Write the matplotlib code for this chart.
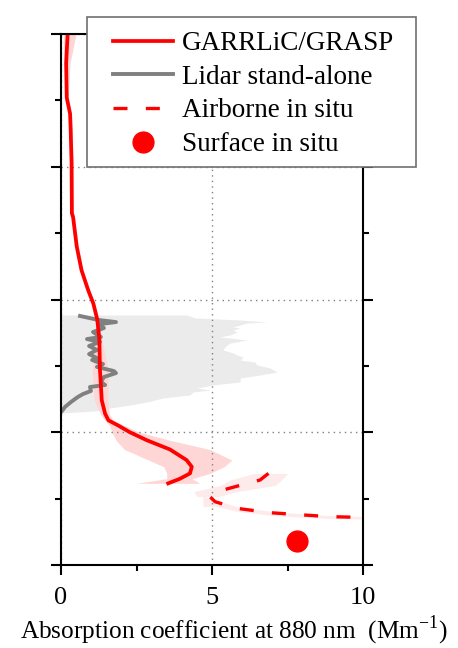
import matplotlib
matplotlib.use("Agg")
import matplotlib.pyplot as plt
from matplotlib.patches import Rectangle
from matplotlib.lines import Line2D
import numpy as np

plt.rcParams['font.family'] = ['Liberation Serif', 'DejaVu Serif']

# GARRLiC/GRASP retrieval: altitude (km) and absorption (Mm-1) with its uncertainty band
garr_alt = [4.00, 3.78, 3.52, 3.40, 3.28, 3.03, 2.65, 2.62, 2.40, 2.22, 2.07, 1.97,
            1.85, 1.70, 1.47, 1.24, 1.14, 1.09, 1.05, 1.00, 0.94, 0.87, 0.79, 0.74,
            0.69, 0.65, 0.615]
garr_abs = [0.22, 0.17, 0.19, 0.30, 0.32, 0.35, 0.36, 0.40, 0.52, 0.68, 0.90, 1.07,
            1.20, 1.27, 1.29, 1.35, 1.46, 1.57, 1.90, 2.28, 2.84, 3.61, 4.16, 4.33,
            4.27, 3.94, 3.55]
garr_lo = [0.07, 0.10, 0.14, 0.25, 0.27, 0.30, 0.31, 0.35, 0.47, 0.63, 0.85, 1.02,
           1.15, 1.20, 1.03, 1.10, 1.30, 1.45, 1.60, 1.69, 1.82, 2.10, 2.90, 3.40,
           3.50, 3.50, 2.50]
garr_hi = [0.50, 0.30, 0.24, 0.35, 0.37, 0.40, 0.41, 0.45, 0.57, 0.73, 0.95, 1.12,
           1.25, 1.35, 1.56, 1.55, 1.60, 1.72, 2.10, 2.60, 3.60, 4.93, 5.66, 5.40,
           4.93, 4.34, 4.60]

# Lidar stand-alone retrieval and its spread
lidar_alt = [1.876, 1.846, 1.830, 1.815, 1.785, 1.755, 1.718, 1.702, 1.680, 1.650,
             1.620, 1.589, 1.559, 1.544, 1.514, 1.492, 1.461, 1.446, 1.416, 1.379,
             1.356, 1.341, 1.311, 1.288, 1.266, 1.228, 1.190, 1.160]
lidar_abs = [0.63, 1.23, 1.82, 1.29, 1.42, 1.06, 1.32, 0.86, 1.29, 0.93,
             1.19, 0.93, 1.19, 1.03, 1.39, 1.19, 1.75, 1.82, 1.42, 1.32,
             1.46, 0.96, 0.99, 0.73, 0.56, 0.33, 0.13, 0.03]
lidar_band_alt = [1.883, 1.861, 1.846, 1.830, 1.823, 1.808, 1.793, 1.785, 1.770, 1.755,
                  1.733, 1.718, 1.695, 1.672, 1.657, 1.642, 1.620, 1.597, 1.582, 1.567,
                  1.544, 1.529, 1.507, 1.484, 1.454, 1.431, 1.409, 1.379, 1.356, 1.333,
                  1.318, 1.303, 1.281, 1.258, 1.228, 1.205, 1.183, 1.160, 1.145]
lidar_band_hi = [4.17, 4.44, 5.90, 6.82, 6.16, 5.93, 5.70, 5.93, 5.70, 5.83,
                 5.60, 5.26, 6.16, 5.60, 5.50, 5.43, 5.36, 5.70, 5.83, 6.03,
                 5.93, 6.42, 6.49, 6.92, 7.15, 6.59, 5.93, 5.93, 5.03, 4.50,
                 4.93, 4.37, 4.27, 3.38, 2.85, 2.28, 1.62, 1.13, 0.00]

# Airborne in situ profile
air_alt = [0.69, 0.64, 0.60, 0.552, 0.515, 0.477, 0.427, 0.394, 0.377, 0.364, 0.359, 0.357]
air_abs = [6.87, 6.59, 5.93, 5.16, 4.93, 5.10, 5.82, 6.92, 8.02, 8.91, 9.90, 10.5]
air_up_alt = [0.69, 0.64, 0.60, 0.552, 0.515]
air_up_lo = [6.40, 5.60, 5.30, 4.40, 4.50]
air_up_hi = [7.50, 7.30, 7.10, 5.80, 5.20]
air_low_abs = [4.70, 5.10, 5.82, 6.92, 8.02, 8.91, 9.90, 10.5]
air_low_bot = [0.440, 0.445, 0.405, 0.375, 0.360, 0.350, 0.346, 0.345]
air_low_top = [0.520, 0.490, 0.440, 0.405, 0.385, 0.372, 0.366, 0.365]

# Surface in situ measurement
surf_alt = [0.18]
surf_abs = [7.8]

fig = plt.figure(figsize=(4.58, 6.48), dpi=100)
ax = fig.add_axes([0.1332, 0.1281, 0.6594, 0.8194])

ax.fill_betweenx(lidar_band_alt, 0, lidar_band_hi, color='#ebebeb', lw=0, zorder=1)
ax.fill_betweenx(garr_alt, garr_lo, garr_hi, color='#ffd6d6', lw=0, zorder=1.1)
ax.fill_betweenx(air_up_alt, air_up_lo, air_up_hi, color='#fdeaea', lw=0, zorder=1.1)
ax.fill_between(air_low_abs, air_low_bot, air_low_top, color='#fdeaea', lw=0, zorder=1.1)

ax.plot(lidar_abs, lidar_alt, color='#808080', lw=2.8, zorder=2)
ax.plot(garr_abs, garr_alt, color='red', lw=2.7, zorder=2.1)
ax.plot(air_abs, air_alt, color='red', lw=2.4, ls=(0, (4.2, 5.5)), zorder=2.1)
ax.plot(surf_abs, surf_alt, 'o', color='red', ms=15, zorder=3)

ax.set_xlim(0, 10)
ax.set_ylim(0, 4)
ax.set_xticks([0, 5, 10])
ax.set_xticks([2.5, 7.5], minor=True)
ax.set_yticks([0, 1, 2, 3, 4])
ax.set_yticks(np.arange(0.5, 4, 1.0), minor=True)
ax.set_yticklabels([])
ax.tick_params(axis='x', which='both', direction='out', top=False, labelsize=19, width=1.5, pad=9)
ax.tick_params(axis='y', which='both', direction='out', left=True, right=True, width=1.5)
ax.tick_params(which='major', length=7)
ax.tick_params(which='minor', length=4)
for sp in ax.spines.values():
    sp.set_linewidth(1.5)

ax.set_axisbelow('line')
ax.grid(True, which='major', color='#808080', ls=(0, (1, 3)), lw=1)

ax.set_xlabel('Absorption coefficient at 880 nm  (Mm$^{\\mathregular{-1}}$)', fontsize=18.2)
ax.xaxis.set_label_coords(0.572, -0.092)
ax.xaxis.label.set_va('top')

# legend box drawn over the top of the axes
fig.patches.append(Rectangle((87 / 458, 1 - 167 / 648), 329 / 458, 150 / 648,
                             transform=fig.transFigure, facecolor='white',
                             edgecolor='#707070', lw=1.2, zorder=1))
handles = [Line2D([], [], color='red', lw=2.7),
           Line2D([], [], color='#808080', lw=2.8),
           Line2D([], [], color='red', lw=2.4, ls=(0, (4.2, 5.5))),
           Line2D([], [], color='red', marker='o', ls='none', ms=15)]
labels = ['GARRLiC/GRASP', 'Lidar stand-alone', 'Airborne in situ', 'Surface in situ']
fig.legend(handles, labels, loc='upper left', bbox_to_anchor=(105 / 458, 1 - 23 / 648),
           frameon=False, fontsize=19.5, handlelength=2.2, handletextpad=0.34,
           labelspacing=0.32, borderpad=0.3, borderaxespad=0)

fig.savefig('out.png', dpi=100)
